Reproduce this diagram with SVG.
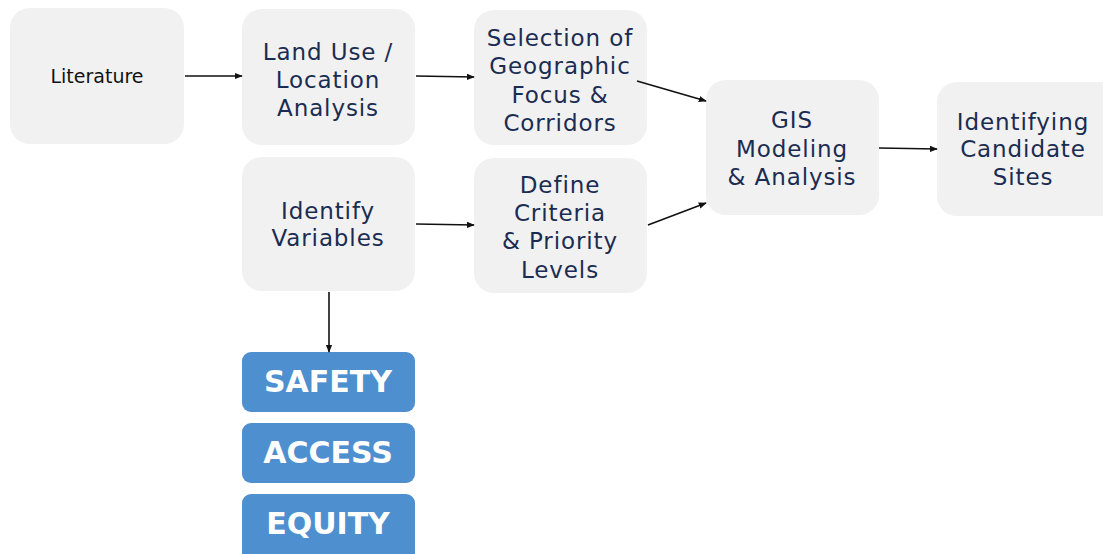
<svg xmlns="http://www.w3.org/2000/svg" width="1103" height="554" viewBox="0 0 1103 554">
<defs>
<marker id="ah" viewBox="0 0 10 10" refX="9" refY="5" markerWidth="8" markerHeight="8" markerUnits="userSpaceOnUse" orient="auto">
<path d="M0,1 L10,5 L0,9 Z" fill="#111"/>
</marker>
<style>
.box{fill:#f1f1f1}
.blue{fill:#4e8fcf}
.t{font-family:"DejaVu Sans",sans-serif;font-size:23px;letter-spacing:0.9px;fill:#1b2c52;text-anchor:middle}
.lit{font-family:"DejaVu Sans",sans-serif;font-size:19px;fill:#111;text-anchor:middle}
.b{font-family:"DejaVu Sans",sans-serif;font-size:30px;font-weight:bold;fill:#fff;text-anchor:middle}
.c{stroke:#111;stroke-width:1.6;fill:none;marker-end:url(#ah)}
</style>
</defs>
<rect width="1103" height="554" fill="#fff"/>
<g id="literature"><rect class="box" x="10" y="8" width="174" height="136" rx="20"/><text class="lit" x="97" y="83">Literature</text></g>
<g id="landuse"><rect class="box" x="242" y="9" width="173" height="136" rx="20"/><text class="t" x="328" y="60">Land Use /</text><text class="t" x="328" y="88">Location</text><text class="t" x="328" y="116">Analysis</text></g>
<g id="selection"><rect class="box" x="474" y="10" width="173" height="135" rx="20"/><text class="t" x="560" y="46">Selection of</text><text class="t" x="560" y="74">Geographic</text><text class="t" x="560" y="103">Focus &amp;</text><text class="t" x="560" y="131">Corridors</text></g>
<g id="identifyvars"><rect class="box" x="242" y="157" width="173" height="134" rx="20"/><text class="t" x="328" y="219">Identify</text><text class="t" x="328" y="246">Variables</text></g>
<g id="define"><rect class="box" x="474" y="158" width="173" height="135" rx="20"/><text class="t" x="560" y="193">Define</text><text class="t" x="560" y="221">Criteria</text><text class="t" x="560" y="249">&amp; Priority</text><text class="t" x="560" y="278">Levels</text></g>
<g id="gis"><rect class="box" x="706" y="80" width="173" height="135" rx="20"/><text class="t" x="792" y="128">GIS</text><text class="t" x="792" y="157">Modeling</text><text class="t" x="792" y="185">&amp; Analysis</text></g>
<g id="identifying"><rect class="box" x="937" y="82" width="186" height="134" rx="20"/><text class="t" x="1023" y="130">Identifying</text><text class="t" x="1023" y="157">Candidate</text><text class="t" x="1023" y="185">Sites</text></g>
<g id="safety"><rect class="blue" x="242" y="352" width="173" height="60" rx="9"/><text class="b" x="328" y="392">SAFETY</text></g>
<g id="access"><rect class="blue" x="242" y="423" width="173" height="60" rx="9"/><text class="b" x="328" y="463">ACCESS</text></g>
<g id="equity"><rect class="blue" x="242" y="494" width="173" height="70" rx="9"/><text class="b" x="328" y="534">EQUITY</text></g>
<g id="connectors">
<line class="c" x1="185" y1="76" x2="242" y2="76"/>
<line class="c" x1="416" y1="76" x2="474" y2="77"/>
<line class="c" x1="637" y1="81" x2="706" y2="101"/>
<line class="c" x1="648" y1="225" x2="706" y2="203"/>
<line class="c" x1="879" y1="148" x2="937" y2="149"/>
<line class="c" x1="416" y1="224" x2="474" y2="225"/>
<line class="c" x1="329" y1="292" x2="329" y2="352"/>
</g>
</svg>
